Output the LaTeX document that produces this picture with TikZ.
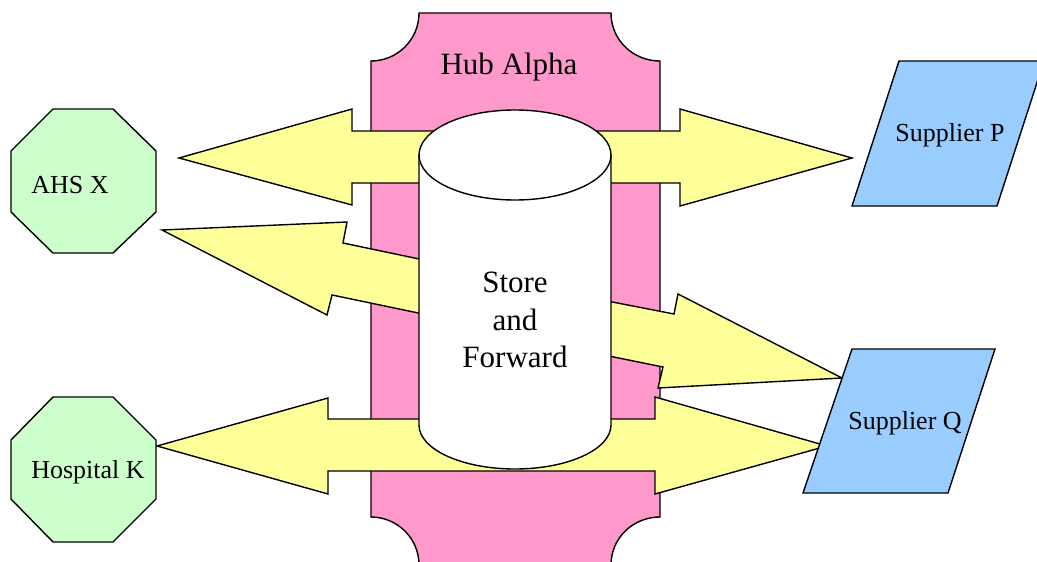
\documentclass[tikz,border=0pt]{standalone}
\usepackage{fontspec}
\setmainfont{Liberation Serif}
\definecolor{hubpink}{HTML}{FF99CC}
\definecolor{arrowyellow}{HTML}{FFFF99}
\definecolor{nodegreen}{HTML}{CCFFCC}
\definecolor{nodeblue}{HTML}{99CCFF}
\tikzset{
  outline/.style={draw=black, line width=1.4pt, line join=miter},
  hubshape/.style={outline, fill=hubpink},
  blockarrow/.style={outline, fill=arrowyellow},
  octa/.style={outline, fill=nodegreen},
  para/.style={outline, fill=nodeblue},
  cyl/.style={outline, fill=white},
  bigtext/.style={font=\fontsize{31}{37.5}\selectfont, align=center},
  smalltext/.style={font=\fontsize{26}{31}\selectfont}
}
\begin{document}
\begin{tikzpicture}[x=1pt,y=-1pt]
\path[use as bounding box] (0,0) rectangle (1037,562);
\clip (0,0) rectangle (1037,562);
% hub
\path[hubshape] (419,13) -- (611,13) .. controls (611,40) and (633,61) .. (660,61)
  -- (660,517) .. controls (633,517) and (611,538) .. (611,565)
  -- (419,565) .. controls (419,538) and (397,517) .. (371,517)
  -- (371,61) .. controls (397,61) and (419,40) .. (419,13) -- cycle;
\node[bigtext] (hub) at (509,67) {Hub Alpha};
% block arrows
\path[blockarrow] (179,158) -- (352,109) -- (352,131) -- (680,131) -- (680,109)
  -- (852,158) -- (680,206) -- (680,183) -- (352,183) -- (352,205) -- cycle;
\path[blockarrow] (157,446) -- (328,398) -- (328,419) -- (655,419) -- (655,397)
  -- (827,446) -- (655,494) -- (655,471) -- (328,471) -- (328,494) -- cycle;
\path[blockarrow] (162,230) -- (347,222) -- (343,243) -- (500,276) -- (500,330)
  -- (332,295) -- (327,315) -- cycle;
\path[blockarrow] (530,286) -- (674,314) -- (678,294) -- (842,378) -- (658,388)
  -- (663,367) -- (530,340) -- cycle;
% cylinder
\path[cyl] (419,155) -- (419,425) arc[start angle=180, end angle=0, x radius=96, y radius=44] -- (611,155) -- cycle;
\path[cyl] (515,155) ellipse [x radius=96, y radius=45];
\node[bigtext] (store) at (515,320) {Store\\and\\Forward};
% octagons
\path[octa] (53,109) -- (113,109) -- (156,151) -- (156,212) -- (113,253) -- (53,253) -- (11,212) -- (11,151) -- cycle;
\node[smalltext] (ahs) at (70,185) {AHS X};
\path[octa] (53,397) -- (113,397) -- (156,440) -- (156,499) -- (113,542) -- (53,542) -- (11,499) -- (11,440) -- cycle;
\node[smalltext] (hosp) at (88,472) {Hospital K};
% suppliers
\path[para] (899,61) -- (1044,61) -- (997,206) -- (852,206) -- cycle;
\node[smalltext] (supP) at (950,135) {Supplier P};
\path[para] (852,349) -- (995,349) -- (948,493) -- (803,493) -- cycle;
\node[smalltext] (supQ) at (905,423) {Supplier Q};
\end{tikzpicture}
\end{document}
